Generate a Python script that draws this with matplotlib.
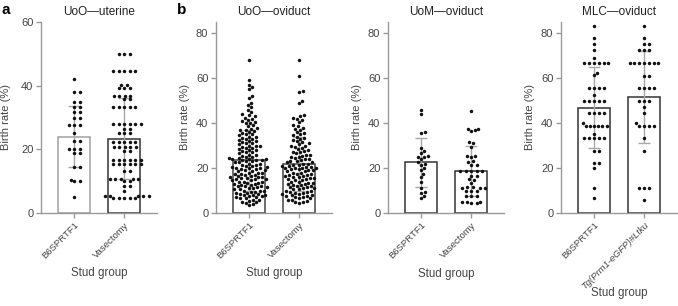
import numpy as np
import matplotlib
matplotlib.use("Agg")
import matplotlib.pyplot as plt

plt.rcParams["font.family"] = ["Liberation Sans", "DejaVu Sans"]

# ---- data ----
groups_std = ["B6SPRTF1", "Vasectomy"]
groups_mlc = ["B6SPRTF1", "Tg(Prm1-eGFP)#Ltku"]

# panel a: UoO - uterine
a_b6 = [42, 38, 38, 35, 35, 33.3, 33.3, 31.6, 31.6, 29.7, 29.7, 27.6, 27.6, 27.6,
        25, 22.7, 22.7, 20, 20, 20, 18.8, 18.8, 14.3, 14.3, 10.5, 10, 10, 5]
a_vas = ([49.8] * 3 + [44.6] * 5 + [40.2] * 2 + [39.4] * 3 + [36.8] * 4 + [35.7] * 2
         + [33.4] * 5 + [27.9] * 6 + [26.5] * 2 + [25.2] * 3 + [22.4] * 5 + [20.6] * 5
         + [19.5] * 2 + [16.7] * 6 + [15.4] * 6 + [13.1] * 2 + [10.7] * 5 + [10.1] * 2
         + [8.4] * 2 + [7.0] + [5.4] * 5 + [4.7] * 5)
a_mean = [24.0, 23.4]
a_sd = [9.6, 12.7]

# panel b: UoO - oviduct
b1_b6 = [68, 59, 57, 56, 55, 52, 51, 49, 48, 47, 46, 45, 44, 43.5, 43, 42.5, 42, 41.5, 41,
         40.5, 40, 40, 39, 38.5, 38, 37.5, 37, 37, 36.5, 36, 35.5, 35, 35, 34.5, 34, 34,
         33.5, 33, 33, 32.5, 32, 32, 31.5, 31, 31, 30.5, 30, 30, 30, 29.5, 29, 29, 28.5,
         28, 28, 27.5, 27, 27, 26.5, 26, 26, 25.5, 25, 25, 24.5, 24.5, 24, 24, 24, 23.5,
         23.5, 23.5, 23, 23, 22.5, 22.5, 22, 22,
         21.5, 21.5, 21, 21, 20.5, 20.5, 20, 20, 20, 19.5, 19.5, 19, 19, 18.5, 18.5, 18,
         18, 18, 17.5, 17.5, 17, 17, 16.5, 16.5, 16, 16, 16, 15.5, 15.5, 15, 15, 15, 14.5,
         14.5, 14, 14, 14, 13.5, 13.5, 13, 13, 12.5, 12.5, 12, 12, 12, 11.5, 11.5, 11, 11,
         10.5, 10.5, 10, 10, 10, 9.5, 9.5, 9, 9, 8.5, 8.5, 8, 8, 8, 7.5, 7.5, 7, 7, 6.5,
         6.5, 6, 6, 5.5, 5, 5, 4.5, 4, 3.5]
b1_vas = [68, 61, 54.5, 54, 50, 49, 43.5, 43, 42.5, 42, 41.5, 40.5, 39, 38.5, 38, 37.5,
          37, 36, 35.5, 35, 34.5, 34, 33.5, 33, 32.5, 32, 31.5, 31, 30.5, 30, 30, 29.5,
          29, 28.5, 28, 27.5, 27, 27, 26.5, 26, 26, 25.5, 25, 25, 24.5, 24, 24, 23.5, 23,
          23, 22.5, 22.5, 22, 22, 21.5, 21.5, 21, 21, 20.5, 20.5, 20, 20, 20, 20,
          19.5, 19.5, 19, 19, 18.5, 18.5, 18, 18, 17.5, 17.5, 17, 17, 16.5, 16.5,
          16, 16, 15.5, 15.5, 15, 15, 14.5, 14.5, 14, 14, 13.5, 13.5, 13, 13, 12.5, 12.5,
          12, 12, 11.5, 11.5, 11, 11, 10.5, 10.5, 10, 10, 9.5, 9.5, 9, 9, 8.5, 8.5, 8, 8,
          7.5, 7.5, 7, 7, 6.5, 6.5, 6, 6, 5.5, 5, 5, 4.5]
b1_mean = [23.5, 21.8]
b1_sd = [13.6, 12.0]

# UoM - oviduct
b2_b6 = [46, 44, 36, 35.5, 29, 27.5, 26.5, 25.5, 25, 25, 24, 22.5, 22, 21.5, 20, 19,
         17.5, 16, 14, 11, 9.5, 9, 7.5, 6.5]
b2_vas = [45.5, 37.5, 37.5, 37, 36.5, 31.5, 31, 29.5, 25.5, 25.5, 25, 23, 22.5, 21.5,
          21.5, 18.8, 18.8, 18.8, 18.8, 18.8, 16.5, 16.5, 15, 14.5, 13.5, 11.5, 11.5, 11,
          11, 11, 10, 10, 10, 7.7, 7.7, 7.7, 5, 5, 5, 4.5, 4.5]
b2_mean = [22.5, 18.6]
b2_sd = [10.9, 11.0]

# MLC - oviduct
b3_b6 = ([83.3, 77.8, 75, 72.7, 69.2] + [66.7] * 6 + [62.5, 61.5] + [55.6] * 4 + [52.6]
         + [50] * 5 + [44.4] * 4 + [40] + [38.9] * 5 + [38.5, 35] + [33.3] * 5
         + [27.8] * 2 + [22.2] * 2 + [20, 11.1, 6.7])
b3_tg = ([83.3, 77.8, 75, 75] + [72.7] * 3 + [66.7] * 7 + [61.1] * 2 + [55.6] * 4
         + [50] * 3 + [47.1, 44.4, 40] + [38.9] * 4 + [33.3, 27.8] + [11.1] * 3 + [5.6])
b3_mean = [46.8, 51.7]
b3_sd = [18.0, 20.4]

# title, labels, data, means, sd, ytop, yticks, bar edges, row spacing, swarm spacing, xlabel y
panels = [
    ("UoO\u2014uterine", groups_std, [a_b6, a_vas], a_mean, a_sd, 60, [0, 20, 40, 60],
     ["#a0a0a0", "#333333"], 5.5, 3.6, -0.285),
    ("UoO\u2014oviduct", groups_std, [b1_b6, b1_vas], b1_mean, b1_sd, 85,
     [0, 20, 40, 60, 80], ["#444444", "#444444"], 4.0, 4.0, -0.285),
    ("UoM\u2014oviduct", groups_std, [b2_b6, b2_vas], b2_mean, b2_sd, 85,
     [0, 20, 40, 60, 80], ["#333333", "#333333"], 5.5, 3.8, -0.29),
    ("MLC\u2014oviduct", groups_mlc, [b3_b6, b3_tg], b3_mean, b3_sd, 85,
     [0, 20, 40, 60, 80], ["#333333", "#333333"], 4.8, 3.8, -0.39),
]
lefts = [41, 216, 388, 561]


def swarm(vals, d_same, d_other, ypx):
    # greedy beeswarm in pixel space, returns x offsets in pixels
    vals = np.asarray(vals, float)
    order = np.argsort(vals, kind="stable")
    placed = []
    off = np.zeros(len(vals))
    for i in order:
        y = vals[i] * ypx
        cands = [0.0]
        blocks = []
        for px, py, pv in placed:
            d = d_same if pv == vals[i] else d_other
            dy = abs(py - y)
            if dy < d:
                w = np.sqrt(d ** 2 - dy ** 2)
                blocks.append((px - w, px + w))
                cands += [px - w, px + w]
        best = 0.0
        for c in sorted(cands, key=lambda c: (abs(c), -c)):
            if all(not (lo + 1e-6 < c < hi - 1e-6) for lo, hi in blocks):
                best = c
                break
        off[i] = best
        placed.append((best, y, vals[i]))
    return off


W, H = 678, 306
fig = plt.figure(figsize=(W / 100, H / 100), dpi=100)
axcol = "#9a9a9a"
txtcol = "#444444"

for k, (title, labels, data, means, sds, ytop, yticks, edges, dsame, dother, xly) in enumerate(panels):
    ax = fig.add_axes([lefts[k] / W, 93 / H, 116 / W, 191 / H])
    xlo, xhi = -0.66, 1.66
    ax.set_xlim(xlo, xhi)
    ax.set_ylim(0, ytop)
    xpx = 116 / (xhi - xlo)
    ypx = 191 / ytop
    ax.bar([0, 1], means, width=0.64, color="white", edgecolor=edges, linewidth=1.1, zorder=1)
    ax.errorbar([0, 1], means, yerr=sds, fmt="none", ecolor="#a8a8a8", elinewidth=1,
                capsize=4.5, capthick=1, zorder=2)
    for j, vals in enumerate(data):
        xo = swarm(vals, dsame, dother, ypx) / xpx
        ax.plot(j + xo, vals, "o", ms=2.5, color="#111111", mec="none", zorder=3,
                clip_on=False)
    for s in ["top", "right"]:
        ax.spines[s].set_visible(False)
    for s in ["left", "bottom"]:
        ax.spines[s].set_color(axcol)
        ax.spines[s].set_linewidth(1)
    ax.set_yticks(yticks)
    ax.set_xticks([0, 1])
    ax.set_xticklabels(labels, rotation=45, ha="right", rotation_mode="anchor",
                       fontsize=6.8, color=txtcol)
    if k == 3:
        ax.get_xticklabels()[1].set_style("italic")
    ax.tick_params(axis="both", colors=axcol, length=3.5, width=1, labelcolor=txtcol)
    ax.tick_params(axis="y", labelsize=8, pad=2)
    ax.tick_params(axis="x", pad=2)
    ax.set_ylabel("Birth rate (%)", fontsize=8, color=txtcol, labelpad=7 if k == 0 else 4)
    ax.set_xlabel("Stud group", fontsize=8.3, color=txtcol)
    ax.xaxis.set_label_coords(0.5, xly)
    ax.set_title(title, fontsize=8.5, color="#222222", pad=5)

fig.text(1 / W, 1 - 10 / H, "a", fontsize=11, fontweight="bold", va="center", ha="left")
fig.text(177 / W, 1 - 10 / H, "b", fontsize=11, fontweight="bold", va="center", ha="left")

fig.savefig("out.png", dpi=100)
